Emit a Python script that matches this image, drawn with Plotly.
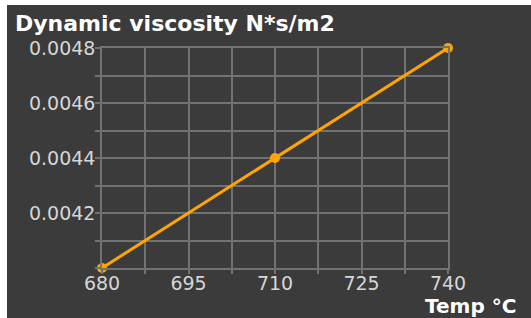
import plotly.graph_objects as go

temps = [680, 710, 740]
viscosity = [0.0040, 0.0044, 0.0048]
x_tick_vals = [680, 695, 710, 725, 740]
y_tick_vals = [0.0042, 0.0044, 0.0046, 0.0048]
y_tick_text = ["0.0042", "0.0044", "0.0046", "0.0048"]
title_text = "Dynamic viscosity N*s/m2"
x_title_text = "Temp °C"

W, H = 531, 318
L, R, T, B = 102, 448, 48, 268
pw, ph = R - L, B - T

def px(x):
    return (x - L) / pw

def py(y):
    return (B - y) / ph

BG = "#3b3b3b"
GRID = "#727272"
TICKC = "#d6d6d6"
FONT = "DejaVu Sans"

fig = go.Figure()
fig.add_trace(go.Scatter(
    x=temps, y=viscosity, mode="lines+markers",
    line=dict(color="#FFA500", width=3),
    marker=dict(color="#FFA500", size=10),
    cliponaxis=False, showlegend=False,
))

fig.update_layout(
    width=W, height=H,
    margin=dict(l=L, r=W - R, t=T, b=H - B, pad=0),
    paper_bgcolor=BG, plot_bgcolor=BG,
    xaxis=dict(
        range=[680, 740], tickvals=x_tick_vals,
        ticks="outside", ticklen=4, tickcolor=GRID, tickwidth=1.5,
        showgrid=True, gridcolor=GRID, gridwidth=1.5,
        minor=dict(dtick=7.5, tick0=680, showgrid=True, gridcolor=GRID, gridwidth=1.5,
                   ticks="outside", ticklen=4, tickcolor=GRID, tickwidth=1.5),
        showline=True, mirror=True, linecolor=GRID, linewidth=1.5,
        zeroline=False,
        tickfont=dict(family=FONT, size=19, color=TICKC),
        ticklabelstandoff=-7,
    ),
    yaxis=dict(
        range=[0.0040, 0.0048], tickvals=y_tick_vals, ticktext=y_tick_text,
        ticks="outside", ticklen=5, tickcolor=GRID, tickwidth=1.5,
        showgrid=True, gridcolor=GRID, gridwidth=1.5,
        minor=dict(dtick=0.0001, tick0=0.0040, showgrid=True, gridcolor=GRID, gridwidth=1.5,
                   ticks="outside", ticklen=5, tickcolor=GRID, tickwidth=1.5),
        showline=True, mirror=True, linecolor=GRID, linewidth=1.5,
        zeroline=False,
        tickfont=dict(family=FONT, size=19, color=TICKC),
        ticklabelstandoff=-4,
    ),
    annotations=[
        dict(text="<b>" + title_text + "</b>", xref="paper", yref="paper",
             x=px(13), y=py(23), xanchor="left", yanchor="middle", showarrow=False,
             font=dict(family=FONT, size=22, color="#ffffff")),
        dict(text="<b>" + x_title_text + "</b>", xref="paper", yref="paper",
             x=px(518), y=py(306), xanchor="right", yanchor="middle", showarrow=False,
             font=dict(family=FONT, size=20, color="#ffffff")),
    ],
    shapes=[
        dict(type="rect", xref="paper", yref="paper", x0=px(0), x1=px(7), y0=py(H), y1=py(0),
             fillcolor="#ffffff", line=dict(width=0), layer="above"),
        dict(type="rect", xref="paper", yref="paper", x0=px(0), x1=px(W), y0=py(5), y1=py(0),
             fillcolor="#ffffff", line=dict(width=0), layer="above"),
    ],
)

fig.write_html("out.html", config={"displayModeBar": False},
               post_script="document.body.style.margin='0px';document.body.style.overflow='hidden';")
